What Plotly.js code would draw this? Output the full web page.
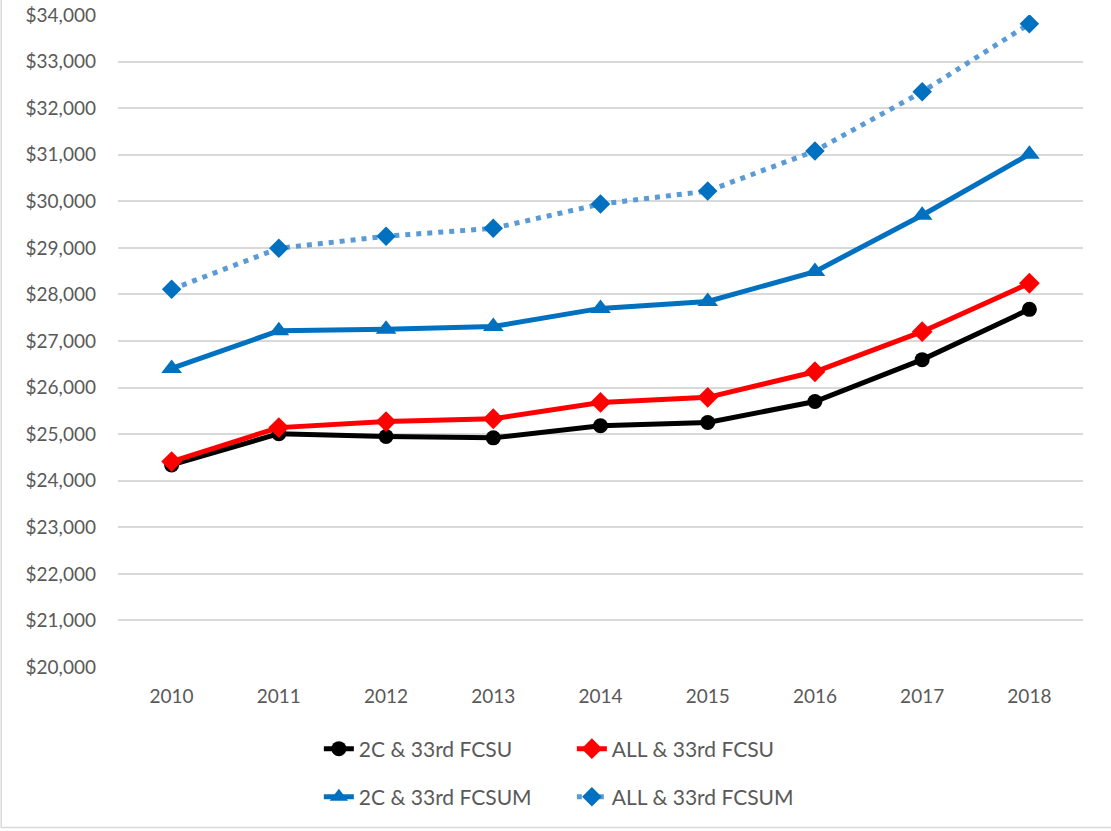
<!DOCTYPE html>
<html>
<head>
<meta charset="utf-8">
<script src="https://cdn.plot.ly/plotly-3.0.1.min.js"></script>
<style>
  html, body { margin: 0; padding: 0; background: #fff; }
  #chart { width: 1111px; height: 831px; }
</style>
</head>
<body>
<div id="chart"></div>
<script>
const years = ['2010', '2011', '2012', '2013', '2014', '2015', '2016', '2017', '2018'];

const fcsu2c = [24340, 25010, 24950, 24920, 25180, 25250, 25700, 26600, 27680];
const fcsuAll = [24410, 25140, 25270, 25330, 25680, 25790, 26340, 27200, 28240];
const fcsum2c = [26410, 27220, 27250, 27310, 27700, 27850, 28490, 29700, 31010];
const fcsumAll = [28110, 28990, 29250, 29420, 29940, 30220, 31080, 32350, 33810];

const traces = [
  {
    x: years, y: fcsu2c, name: '2C & 33rd FCSU', mode: 'lines+markers',
    line: { color: '#000000', width: 5 },
    marker: { symbol: 'circle', size: 15, color: '#000000' },
    legend: 'legend'
  },
  {
    x: years, y: fcsuAll, name: 'ALL & 33rd FCSU', mode: 'lines+markers',
    line: { color: '#FF0000', width: 5 },
    marker: { symbol: 'diamond', size: 16, color: '#FF0000' },
    legend: 'legend'
  },
  {
    x: years, y: fcsum2c, name: '2C & 33rd FCSUM', mode: 'lines+markers',
    line: { color: '#0070C0', width: 5 },
    marker: { symbol: 'triangle-up', size: 18, color: '#0070C0' },
    legend: 'legend2'
  },
  {
    x: years, y: fcsumAll, name: 'ALL & 33rd FCSUM', mode: 'lines+markers',
    line: { color: '#5B9BD5', width: 5, dash: '5px,6px' },
    marker: { symbol: 'diamond', size: 15, color: '#0070C0' },
    legend: 'legend2'
  }
];

const legendFont = { family: 'Lato, "Liberation Sans", sans-serif', size: 21, color: '#595959' };

const layout = {
  width: 1111,
  height: 831,
  margin: { l: 118, r: 28, t: 15, b: 164 },
  paper_bgcolor: '#ffffff',
  plot_bgcolor: '#ffffff',
  font: { family: 'Lato, "Liberation Sans", sans-serif', size: 19, color: '#595959' },
  xaxis: {
    type: 'category',
    range: [-0.5, 8.5],
    showgrid: false,
    zeroline: false,
    showline: false,
    ticks: '',
    ticklabelstandoff: 16,
    fixedrange: true
  },
  yaxis: {
    range: [20000, 34000],
    dtick: 1000,
    tickprefix: '$',
    tickformat: ',d',
    showgrid: true,
    gridcolor: '#D9D9D9',
    gridwidth: 2,
    zeroline: false,
    showline: false,
    ticks: '',
    ticklabelstandoff: 21,
    fixedrange: true
  },
  showlegend: true,
  legend: {
    orientation: 'h', xref: 'container', yref: 'container',
    x: 0.287, y: 1 - 749 / 831, xanchor: 'left', yanchor: 'middle',
    entrywidth: 208, entrywidthmode: 'pixels',
    font: legendFont, bgcolor: 'rgba(0,0,0,0)'
  },
  legend2: {
    orientation: 'h', xref: 'container', yref: 'container',
    x: 0.287, y: 1 - 797 / 831, xanchor: 'left', yanchor: 'middle',
    entrywidth: 208, entrywidthmode: 'pixels',
    font: legendFont, bgcolor: 'rgba(0,0,0,0)'
  },
  shapes: [
    {
      type: 'rect', xref: 'paper', yref: 'paper',
      x0: -0.121, x1: 1.05, y0: -0.246, y1: 1.05,
      line: { color: '#D9D9D9', width: 1.5 }, fillcolor: 'rgba(0,0,0,0)', layer: 'below'
    }
  ]
};

Plotly.newPlot('chart', traces, layout, { displayModeBar: false, staticPlot: true });
</script>
</body>
</html>
